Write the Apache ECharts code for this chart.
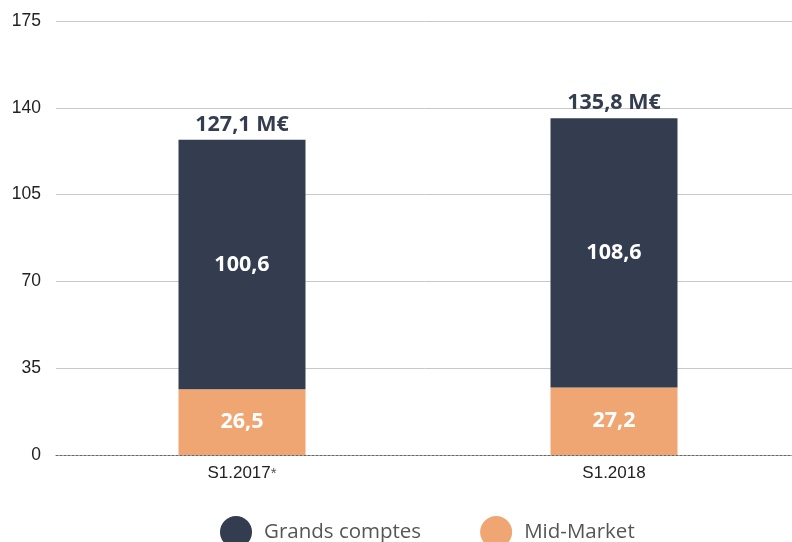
<!DOCTYPE html>
<html>
<head>
<meta charset="utf-8">
<script src="https://cdn.jsdelivr.net/npm/echarts@6/dist/echarts.min.js"></script>
<style>
  html, body { margin: 0; padding: 0; background: #fff; }
  #chart { width: 792px; height: 542px; }
</style>
</head>
<body>
<div id="chart"></div>
<script>
const categories = ['S1.2017*', 'S1.2018']
const grandsComptes = [100.6, 108.6]
const midMarket = [26.5, 27.2]
const totals = [127.1, 135.8]
const yTicks = [0, 35, 70, 105, 140, 175]

const navy = '#333d4f'
const orange = '#f0a672'
const fmt = v => v.toFixed(1).replace('.', ',')

const chart = echarts.init(document.getElementById('chart'))

chart.setOption({
    animation: false,
    grid: { left: 56, top: 21, width: 744, bottom: 87, outerBoundsMode: 'none', containLabel: false },
    legend: {
        data: ['Grands comptes', 'Mid-Market'],
        top: 511,
        left: 215,
        icon: 'circle',
        itemWidth: 32,
        itemHeight: 32,
        itemGap: 59,
        textStyle: { fontFamily: 'Open Sans', fontSize: 20.5, color: '#555', padding: [0, 0, 0, 7] }
    },
    xAxis: {
        type: 'category',
        data: categories,
        axisTick: { show: false },
        axisLine: { lineStyle: { color: '#666', type: [2, 2], width: 1 } },
        axisLabel: {
            fontFamily: 'Liberation Sans', fontSize: 17, color: '#222', margin: 10,
            formatter: v => v.endsWith('*') ? v.slice(0, -1) + '{s|*}' : v,
            rich: { s: { fontFamily: 'Liberation Sans', fontSize: 15, color: '#555' } }
        }
    },
    yAxis: {
        type: 'value',
        min: yTicks[0],
        max: yTicks[yTicks.length - 1],
        interval: 35,
        axisLine: { show: false },
        axisTick: { show: false },
        axisLabel: { fontFamily: 'Liberation Sans', fontSize: 17.5, color: '#222', margin: 15 },
        splitLine: { lineStyle: { color: '#c8c8c8' } }
    },
    series: [
        {
            name: 'Mid-Market',
            type: 'bar',
            stack: 'ca',
            barWidth: 127,
            data: midMarket,
            itemStyle: { color: orange },
            label: {
                show: true, position: 'inside', formatter: p => fmt(p.value),
                color: '#fff', fontFamily: 'Open Sans', fontWeight: 'bold', fontSize: 21.5
            }
        },
        {
            name: 'Grands comptes',
            type: 'bar',
            stack: 'ca',
            data: grandsComptes,
            itemStyle: { color: navy },
            label: {
                show: true, position: 'inside', formatter: p => fmt(p.value),
                color: '#fff', fontFamily: 'Open Sans', fontWeight: 'bold', fontSize: 21.5
            }
        },
        {
            name: 'Total',
            type: 'bar',
            stack: 'ca',
            data: totals.map(() => 0),
            itemStyle: { color: 'transparent' },
            label: {
                show: true, position: 'top', distance: 4,
                formatter: p => fmt(totals[p.dataIndex]) + ' M€',
                color: navy, fontFamily: 'Open Sans', fontWeight: 'bold', fontSize: 21.5
            }
        }
    ]
})
</script>
</body>
</html>
